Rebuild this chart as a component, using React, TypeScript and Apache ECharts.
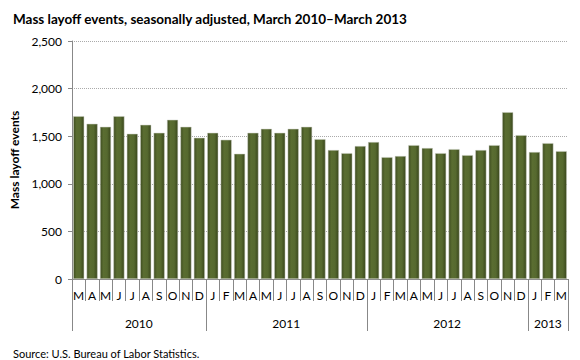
import React, { useEffect, useRef } from "react";
import * as echarts from "echarts";

const months = [
  "M", "A", "M", "J", "J", "A", "S", "O", "N", "D",
  "J", "F", "M", "A", "M", "J", "J", "A", "S", "O", "N", "D",
  "J", "F", "M", "A", "M", "J", "J", "A", "S", "O", "N", "D",
  "J", "F", "M",
];
const years = ["2010", "2011", "2012", "2013"];
const yearStartIndex = [0, 10, 22, 34];
const yearLabelIndex = [4, 15, 27, 35];
const yearLabelShifted = [true, true, true, false];
const layoffEvents = [
  1710, 1630, 1598, 1710, 1525, 1619, 1535, 1672, 1598, 1483,
  1535, 1462, 1315, 1535, 1577, 1535, 1577, 1598, 1469, 1354, 1322, 1396,
  1438, 1280, 1291, 1406, 1375, 1322, 1364, 1301, 1354, 1406, 1752, 1511,
  1333, 1427, 1343,
];
const yMin = 0;
const yMax = 2500;
const yStep = 500;

const FONT = "Lato, 'Open Sans', sans-serif";

export default function App() {
  const ref = useRef<HTMLDivElement>(null);
  useEffect(() => {
    if (!ref.current) return;
    const chart = echarts.init(ref.current, undefined, { renderer: "svg" });
    const monthYear = months.map((m, i) => {
      let y = 0;
      yearStartIndex.forEach((s, k) => { if (i >= s) y = k; });
      return years[y];
    });
    chart.setOption({
      animation: false,
      backgroundColor: "#ffffff",
      textStyle: { fontFamily: FONT },
      title: [
        {
          text: "Mass layoff events, seasonally adjusted, March 2010\u2013March 2013",
          left: 8,
          top: 7,
          textStyle: { fontFamily: FONT, fontSize: 13.5, fontWeight: "bold", color: "#000" },
        },
        {
          text: "Source: U.S. Bureau of Labor Statistics.",
          left: 8,
          top: 343,
          textStyle: { fontFamily: FONT, fontSize: 11, fontWeight: "normal", color: "#000" },
        },
      ],
      grid: { left: 72, right: 12, top: 41, bottom: 81, containLabel: false },
      xAxis: [
        {
          type: "category",
          data: months,
          position: "bottom",
          axisLine: { show: true, lineStyle: { color: "#888", width: 1 } },
          axisTick: { show: true, interval: 0, length: 22, lineStyle: { color: "#888" } },
          axisLabel: { interval: 0, margin: 10, fontSize: 12, color: "#000", fontFamily: FONT },
          splitLine: { show: false },
        },
        {
          type: "category",
          data: monthYear,
          position: "bottom",
          axisLine: { show: false },
          axisTick: {
            show: true,
            interval: (i: number) => yearStartIndex.includes(i),
            length: 52,
            lineStyle: { color: "#888" },
          },
          axisLabel: {
            interval: (i: number) => yearLabelIndex.includes(i),
            margin: 38,
            formatter: (v: string, i: number) => {
              const k = yearLabelIndex.indexOf(i);
              return yearLabelShifted[k] ? `{s|${v}}` : `{c|${v}}`;
            },
            rich: {
              s: { padding: [0, 0, 0, 13], fontSize: 12, color: "#000", fontFamily: FONT },
              c: { fontSize: 12, color: "#000", fontFamily: FONT },
            },
          },
          splitLine: { show: false },
        },
      ],
      yAxis: {
        type: "value",
        min: yMin,
        max: yMax,
        interval: yStep,
        name: "Mass layoff events",
        nameLocation: "middle",
        nameGap: 50,
        nameTextStyle: { fontFamily: FONT, fontSize: 12, fontWeight: "bold", color: "#000" },
        axisLine: { show: true, lineStyle: { color: "#888" } },
        axisTick: { show: true, length: 4, lineStyle: { color: "#888" } },
        axisLabel: {
          margin: 10,
          fontSize: 12,
          color: "#000",
          fontFamily: FONT,
          formatter: (v: number) => v.toLocaleString("en-US"),
        },
        splitLine: { show: true, lineStyle: { color: "#aaa", type: "dotted", width: 1 } },
      },
      series: [
        {
          type: "bar",
          data: layoffEvents,
          xAxisIndex: 0,
          barCategoryGap: "18%",
          itemStyle: {
            color: new echarts.graphic.LinearGradient(0, 0, 1, 0, [
              { offset: 0, color: "#3e4c20" },
              { offset: 0.3, color: "#5a6d31" },
              { offset: 0.65, color: "#56692f" },
              { offset: 1, color: "#3a471c" },
            ]),
            borderColor: "#c8ccc0",
            borderWidth: 0.5,
          },
        },
      ],
    });
    return () => chart.dispose();
  }, []);
  return (
    <div
      ref={ref}
      style={{ position: "fixed", left: 0, top: 0, width: 580, height: 360 }}
    />
  );
}
